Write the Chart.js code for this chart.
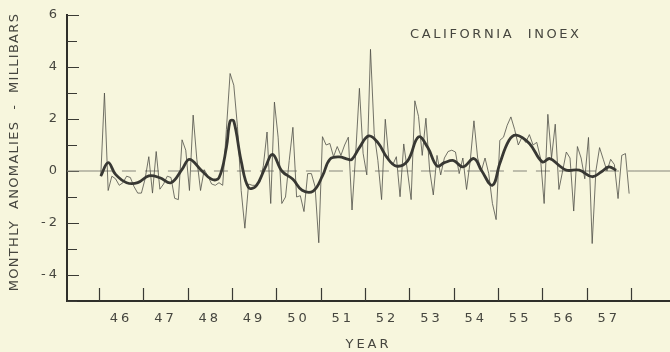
<!DOCTYPE html>
<html>
<head>
<meta charset="utf-8">
<script src="https://cdn.jsdelivr.net/npm/chart.js@4.4.1/dist/chart.umd.min.js"></script>
<style>
    html, body { margin: 0; padding: 0; background: #f7f6dd; }
    #wrap { width: 670px; height: 352px; }
</style>
</head>
<body>
<div id="wrap"><canvas id="index-chart"></canvas></div>
<script>
    "use strict";

    // Monthly anomalies, Jan 1946 .. Dec 1957 (millibars)
    var monthly = [
        -0.2, 3.0, -0.75, -0.2, -0.3, -0.55, -0.45, -0.2, -0.25, -0.6, -0.85, -0.85,
        -0.3, 0.55, -0.85, 0.75, -0.7, -0.5, -0.2, -0.25, -1.05, -1.1, 1.2, 0.8,
        -0.75, 2.15, 0.45, -0.75, 0.05, -0.2, -0.5, -0.55, -0.45, -0.55, 1.6, 3.75,
        3.3, 1.7, -0.75, -2.2, -0.5, -0.55, -0.55, -0.45, 0.2, 1.5, -1.25, 2.65,
        1.3, -1.25, -1.0, 0.4, 1.68, -1.0, -0.95, -1.56, -0.1, -0.1, -0.6, -2.76,
        1.32, 1.0, 1.06, 0.55, 0.94, 0.6, 1.0, 1.3, -1.5, 0.68, 3.18, 0.68,
        -0.15, 4.68, 1.45, 0.4, -1.1, 1.99, 0.4, 0.23, 0.55, -0.99, 1.04, 0.0,
        -1.1, 2.7, 2.1, 0.6, 2.03, 0.04, -0.92, 0.6, -0.15, 0.5, 0.75, 0.8,
        0.73, -0.1, 0.5, -0.71, 0.4, 1.93, 0.5, 0.0, 0.5, -0.1, -1.25, -1.87,
        1.18, 1.3, 1.76, 2.08, 1.6, 1.0, 1.3, 1.1, 1.4, 1.0, 1.1, 0.5,
        -1.25, 2.18, 0.5, 1.8, -0.71, 0.0, 0.73, 0.5, -1.54, 0.94, 0.5, -0.3,
        1.29, -2.79, 0.0, 0.9, 0.45, 0.0, 0.45, 0.25, -1.06, 0.6, 0.67, -0.87
    ];

    // Smoothed curve (month index from Jan 1946, value)
    var smoothMonths = [0, 2, 4, 7, 10, 13, 16, 19, 22, 24, 27, 30, 32, 34, 35, 36, 38, 40, 42, 44.5,
        46.5, 49, 52, 54.5, 57.5, 60, 62, 64.5, 67, 68, 70, 72.5, 75, 77.5, 80, 83, 86, 88.5, 91, 93,
        95.5, 98, 101, 103, 106, 108, 110.5, 112.5, 116, 119.5, 121.5, 124, 126, 129.5, 133, 135.5, 137.5, 139.5];
    var smoothValues = [-0.2, 0.32, -0.13, -0.45, -0.45, -0.19, -0.26, -0.45, 0.06, 0.45, 0.06, -0.32, -0.26, 0.9, 1.92, 1.92, 0.38, -0.64, -0.58, 0.13,
        0.64, 0.0, -0.32, -0.74, -0.77, -0.19, 0.45, 0.54, 0.45, 0.45, 0.9, 1.35, 1.09, 0.51, 0.19, 0.38, 1.31, 0.9, 0.19, 0.32,
        0.4, 0.16, 0.48, 0.03, -0.55, 0.29, 1.18, 1.38, 1.06, 0.35, 0.48, 0.22, 0.03, 0.03, -0.22, -0.03, 0.16, 0.03];

    var startYear = 1946;
    var yearTicks = [1946, 1947, 1948, 1949, 1950, 1951, 1952, 1953, 1954, 1955, 1956, 1957, 1958];
    var yearLabels = ["46", "47", "48", "49", "50", "51", "52", "53", "54", "55", "56", "57"];
    var yLabelValues = [-4, -2, 0, 2, 4, 6];
    var yMin = -5, yMax = 6;
    var xMin = 1945.28, xMax = 1958.88;
    // zero line: solid outside the record, dashed inside it
    var zeroDashFrom = 1946.0, zeroDashTo = 1958.07;

    var inkColor = "#46463f";
    Chart.defaults.font.family = "'DejaVu Sans', sans-serif";
    Chart.defaults.font.size = 13;
    Chart.defaults.color = inkColor;

    function monthToYear(m) {
        return startYear + (m + 0.5) / 12;
    }

    // Lettered look: spaced out characters
    var letterSpacing = {
        id: "letterSpacing",
        beforeUpdate: function (chart) { chart.ctx.letterSpacing = "3px"; },
        beforeDraw: function (chart) { chart.ctx.letterSpacing = "3px"; }
    };

    // Inward tick marks and the free texts
    var axisMarks = {
        id: "axisMarks",
        beforeDatasetsDraw: function (chart) {
            var ctx = chart.ctx, area = chart.chartArea;
            var x = chart.scales.x, y = chart.scales.y;
            ctx.save();
            ctx.strokeStyle = "#3a3a34";
            ctx.lineWidth = 1.2;
            ctx.beginPath();
            for (var v = yMin; v <= yMax; v++) {
                var py = Math.round(y.getPixelForValue(v)) + 0.5;
                ctx.moveTo(area.left, py);
                ctx.lineTo(area.left + (v % 2 === 0 ? 12 : 10), py);
            }
            yearTicks.forEach(function (yr) {
                var px = Math.round(x.getPixelForValue(yr)) + 0.5;
                ctx.moveTo(px, area.bottom);
                ctx.lineTo(px, area.bottom - 13);
            });
            ctx.stroke();
            ctx.restore();
        },
        afterDraw: function (chart) {
            var ctx = chart.ctx;
            ctx.save();
            ctx.fillStyle = inkColor;
            ctx.font = "13px 'DejaVu Sans', sans-serif";
            ctx.textBaseline = "middle";

            ctx.letterSpacing = "2.6px";
            ctx.textAlign = "left";
            ctx.fillText("CALIFORNIA  INOEX", 410, 35);

            ctx.letterSpacing = "1.3px";
            ctx.textAlign = "center";
            ctx.translate(15, 152);
            ctx.rotate(-Math.PI / 2);
            ctx.fillText("MONTHLY  ANOMALIES  -  MILLIBARS", 0, 0);
            ctx.restore();
        }
    };

    var zeroStyle = {
        borderColor: "#85857a",
        borderWidth: 1,
        pointRadius: 0,
        order: 3
    };

    var ctx1 = document.getElementById("index-chart").getContext("2d");
    var myChart1 = new Chart(ctx1, {
        type: "line",
        data: {
            datasets: [
                {
                    label: "Smoothed",
                    data: smoothMonths.map(function (m, i) { return {x: monthToYear(m), y: smoothValues[i]}; }),
                    borderColor: "#383833",
                    borderWidth: 2.8,
                    pointRadius: 0,
                    tension: 0.4,
                    order: 1
                },
                {
                    label: "Monthly",
                    data: monthly.map(function (v, i) { return {x: monthToYear(i), y: v}; }),
                    borderColor: "rgba(80, 80, 72, .8)",
                    borderWidth: 1,
                    pointRadius: 0,
                    tension: 0,
                    order: 2
                },
                Object.assign({
                    label: "Zero",
                    data: [{x: zeroDashFrom, y: 0}, {x: zeroDashTo, y: 0}],
                    borderDash: [14, 9]
                }, zeroStyle),
                Object.assign({
                    label: "Zero left",
                    data: [{x: xMin, y: 0}, {x: zeroDashFrom, y: 0}]
                }, zeroStyle),
                Object.assign({
                    label: "Zero right",
                    data: [{x: zeroDashTo, y: 0}, {x: xMax, y: 0}]
                }, zeroStyle)
            ]
        },
        options: {
            responsive: true,
            maintainAspectRatio: false,
            animation: false,
            layout: { padding: { top: 15, right: 0, bottom: 0, left: 0 } },
            plugins: {
                legend: { display: false },
                tooltip: { enabled: false }
            },
            scales: {
                x: {
                    type: "linear",
                    min: xMin,
                    max: xMax,
                    border: { color: "#2f2f2a", width: 2 },
                    grid: { display: false, drawTicks: false },
                    afterBuildTicks: function (s) {
                        s.ticks = yearLabels.map(function (l, i) { return {value: yearTicks[i] + 0.5}; });
                    },
                    afterFit: function (s) { s.height = 51; },
                    ticks: {
                        autoSkip: false,
                        maxRotation: 0,
                        padding: 10,
                        callback: function (v, i) { return yearLabels[i]; }
                    },
                    title: {
                        display: true,
                        text: "YEAR",
                        padding: { top: 0, bottom: 0 }
                    }
                },
                y: {
                    min: yMin,
                    max: yMax,
                    border: { color: "#2f2f2a", width: 2 },
                    grid: { display: false, drawTicks: false },
                    afterBuildTicks: function (s) {
                        s.ticks = yLabelValues.map(function (v) { return {value: v}; });
                    },
                    afterFit: function (s) { s.width = 67; },
                    ticks: {
                        padding: 7,
                        callback: function (v) { return String(v); }
                    }
                }
            }
        },
        plugins: [letterSpacing, axisMarks]
    });
</script>
</body>
</html>
